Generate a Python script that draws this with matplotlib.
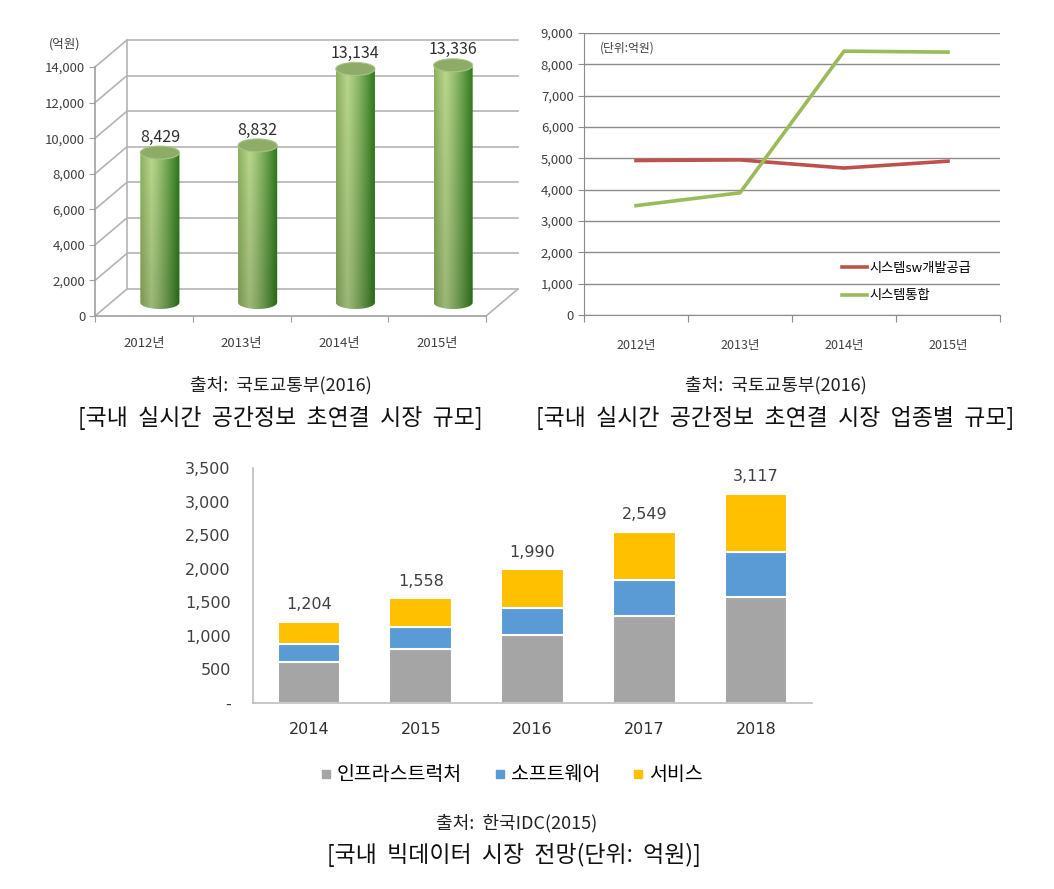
import numpy as np
import matplotlib
matplotlib.use("Agg")
import matplotlib.pyplot as plt
from matplotlib.path import Path
from matplotlib.patches import PathPatch, Ellipse
from matplotlib.lines import Line2D
from matplotlib.colors import to_rgb

plt.rcParams['font.family'] = ['Noto Sans CJK KR', 'DejaVu Sans']

# ---------------- data ----------------
years_a = ['2012년', '2013년', '2014년', '2015년']
market_total = [8429, 8832, 13134, 13336]

years_b = ['2012년', '2013년', '2014년', '2015년']
sw_supply = [4930, 4950, 4690, 4910]
sys_integration = [3490, 3900, 8420, 8390]
line_names = ['시스템sw개발공급', '시스템통합']

years_c = ['2014', '2015', '2016', '2017', '2018']
infra = [615, 800, 1010, 1300, 1585]
software = [262, 325, 410, 530, 660]
service = [327, 433, 570, 719, 872]
totals = [1204, 1558, 1990, 2549, 3117]
stack_names = ['인프라스트럭처', '소프트웨어', '서비스']

W, H = 1054, 889
fig = plt.figure(figsize=(W / 100, H / 100), dpi=100)
fig.patch.set_facecolor('white')


def box(l, t, r, b):
    return [l / W, 1 - b / H, (r - l) / W, (b - t) / H]


def fmt(v):
    return f"{v:,}"

# ---------------- chart 1: 3D cylinders ----------------
L1, T1, R1, B1 = 95, 67, 486, 316
ax1 = fig.add_axes(box(L1, T1, R1, B1))
ax1.set_xlim(-0.5, 3.5)
ax1.set_ylim(0, 14000)
px_x = (R1 - L1) / 4.0
px_y = (B1 - T1) / 14000.0
DX = 32 / px_x          # depth offset in data units
DY = 27 / px_y
gcol = '#b4b4b4'
for v in range(0, 14001, 2000):
    ax1.plot([-0.5, -0.5 + DX], [v, v + DY], color=gcol, lw=1.2, clip_on=False, zorder=1)
    ax1.plot([-0.5 + DX, 3.5 + DX], [v + DY, v + DY], color=gcol, lw=1.2, clip_on=False, zorder=1)
ax1.plot([-0.5 + DX, -0.5 + DX], [DY, 14000 + DY], color=gcol, lw=1.2, clip_on=False, zorder=1)
ax1.plot([3.5, 3.5 + DX], [0, DY], color=gcol, lw=1.2, clip_on=False, zorder=1)
for s in ['top', 'right']:
    ax1.spines[s].set_visible(False)
for s in ['left', 'bottom']:
    ax1.spines[s].set_color('#a0a0a0')
    ax1.spines[s].set_linewidth(1.2)
ax1.set_yticks(range(0, 14001, 2000))
ax1.set_yticklabels([fmt(v) for v in range(0, 14001, 2000)], fontsize=9.5, color='#404040')
ax1.set_xticks([-0.5, 0.5, 1.5, 2.5, 3.5])
ax1.set_xticklabels([])
ax1.set_xticks(range(4), minor=True)
ax1.set_xticklabels(years_a, minor=True, fontsize=9.5, color='#404040')
ax1.tick_params(axis='x', which='minor', length=0, pad=15)
ax1.tick_params(axis='x', which='major', length=4, color='#a0a0a0')
ax1.tick_params(axis='y', length=4, color='#a0a0a0', pad=3)
ax1.patch.set_alpha(0)

w = 0.40
eh = 13 / px_y           # ellipse height in data units
c_left = np.array(to_rgb('#8cb05e'))
c_light = np.array(to_rgb('#b8d68c'))
c_dark = np.array(to_rgb('#2a7518'))
t = np.linspace(0, 1, 120)
cols = np.where(t[:, None] < 0.28,
                c_left + (c_light - c_left) * (t[:, None] / 0.28),
                c_light + (c_dark - c_light) * ((t[:, None] - 0.28) / 0.72) ** 1.2)
for i, v in enumerate(market_total):
    xc = i + DX / 2
    base = DY / 2
    top = v + DY / 2
    th = np.linspace(np.pi, 2 * np.pi, 40)
    bot_x = xc + (w / 2) * np.cos(th)
    bot_y = base + (eh / 2) * np.sin(th)
    verts = np.concatenate([np.c_[bot_x, bot_y],
                            [[xc + w / 2, top]], [[xc - w / 2, top]], [[xc - w / 2, base]]])
    patch = PathPatch(Path(verts), facecolor='none', edgecolor='none')
    ax1.add_patch(patch)
    patch.set_clip_on(False)
    vfade = np.linspace(0.85, 1.0, 60)[::-1]
    img = cols[None, :, :] * vfade[:, None, None]
    im = ax1.imshow(img, extent=[xc - w / 2, xc + w / 2, base - eh / 2, top],
                    aspect='auto', origin='upper', zorder=3, clip_on=True)
    im.set_clip_path(patch)
    ax1.add_patch(Ellipse((xc, top), w, eh, facecolor='#8fab68', edgecolor='#a9c486',
                          lw=0.8, zorder=4, clip_on=False))
    ax1.annotate(fmt(v), (xc, top), xytext=(0, 5), textcoords='offset points',
                 ha='center', va='bottom', fontsize=11.5, color='#303030',
                 annotation_clip=False, zorder=5)
ax1.set_xlim(-0.5, 3.5)
ax1.set_ylim(0, 14000)
fig.text(65 / W, 1 - 44 / H, '(억원)', ha='center', va='center', fontsize=9, color='#404040')

# ---------------- chart 2: lines ----------------
ax2 = fig.add_axes(box(584, 33, 1000, 315))
x2 = np.arange(len(years_b))
ax2.plot(x2, sw_supply, color='#c0504d', lw=2.6, label=line_names[0], zorder=3)
ax2.plot(x2, sys_integration, color='#9bbb59', lw=2.6, label=line_names[1], zorder=3)
ax2.set_xlim(-0.5, 3.5)
ax2.set_ylim(0, 9000)
ax2.set_yticks(range(0, 9001, 1000))
ax2.set_yticklabels([fmt(v) for v in range(0, 9001, 1000)], fontsize=9.5, color='#404040')
ax2.grid(axis='y', color='#8c8c8c', lw=1.0)
ax2.set_axisbelow(True)
for s in ['top', 'right']:
    ax2.spines[s].set_visible(False)
for s in ['left', 'bottom']:
    ax2.spines[s].set_color('#8c8c8c')
ax2.set_xticks([-0.5, 0.5, 1.5, 2.5, 3.5])
ax2.set_xticklabels([])
ax2.set_xticks(range(4), minor=True)
ax2.set_xticklabels(years_b, minor=True, fontsize=9, color='#404040')
ax2.tick_params(axis='x', which='minor', length=0, pad=17)
ax2.tick_params(axis='x', which='major', length=5, color='#8c8c8c')
ax2.tick_params(axis='y', length=4, color='#8c8c8c')
ax2.text(0.105, 0.945, '(단위:억원)', transform=ax2.transAxes, ha='center', va='center',
         fontsize=8.5, color='#404040')
ax2.legend(loc='upper left', bbox_to_anchor=(842 / W, 1 - 262 / H), bbox_transform=fig.transFigure,
           frameon=False, fontsize=9.5, handlelength=1.9, handletextpad=0.2, labelspacing=1.08,
           borderpad=0, borderaxespad=0)

# ---------------- chart 3: stacked bars ----------------
ax3 = fig.add_axes(box(253, 468, 812, 703))
x3 = np.arange(len(years_c))
bw = 0.56
ax3.bar(x3, infra, bw, color='#a5a5a5', edgecolor='white', lw=1.5, label=stack_names[0])
bottom2 = np.array(infra)
ax3.bar(x3, software, bw, bottom=bottom2, color='#5b9bd5', edgecolor='white', lw=1.5,
        label=stack_names[1])
bottom3 = bottom2 + np.array(software)
ax3.bar(x3, service, bw, bottom=bottom3, color='#ffc000', edgecolor='white', lw=1.5,
        label=stack_names[2])
for xi, tot in zip(x3, totals):
    ax3.annotate(fmt(tot), (xi, tot), xytext=(0, 7), textcoords='offset points', ha='center',
                 va='bottom', fontsize=11.5, family='DejaVu Sans', color='#404040',
                 annotation_clip=False)
ax3.set_xlim(-0.5, 4.5)
ax3.set_ylim(0, 3500)
yt = list(range(0, 3501, 500))
ax3.set_yticks(yt)
ax3.set_yticklabels(['-'] + [fmt(v) for v in yt[1:]], fontsize=11.5, family='DejaVu Sans',
                    color='#404040')
ax3.set_xticks(x3)
ax3.set_xticklabels(years_c, fontsize=11.5, family='DejaVu Sans', color='#303030')
ax3.tick_params(axis='both', length=0)
ax3.tick_params(axis='x', pad=14)
ax3.tick_params(axis='y', pad=16)
for s in ['top', 'right']:
    ax3.spines[s].set_visible(False)
for s in ['left', 'bottom']:
    ax3.spines[s].set_color('#bfbfbf')
    ax3.spines[s].set_linewidth(1.2)
handles = [Line2D([], [], marker='s', ls='none', color=c, markersize=5.5)
           for c in ['#a5a5a5', '#5b9bd5', '#ffc000']]
fig.legend(handles, stack_names, loc='center', bbox_to_anchor=(511 / W, 1 - 775 / H), ncol=3,
           frameon=False, fontsize=14, handlelength=0.7, handletextpad=0.2, columnspacing=1.6,
           borderpad=0)

# ---------------- captions ----------------
fig.text(281 / W, 1 - 385 / H, '출처:  국토교통부(2016)', ha='center', va='center', fontsize=13, color='#222222')
fig.text(280 / W, 1 - 418 / H, '[국내  실시간  공간정보  초연결  시장  규모]', ha='center', va='center',
         fontsize=16.5, color='#111111')
fig.text(776 / W, 1 - 385 / H, '출처:  국토교통부(2016)', ha='center', va='center', fontsize=13, color='#222222')
fig.text(775 / W, 1 - 418 / H, '[국내  실시간  공간정보  초연결  시장  업종별  규모]', ha='center', va='center',
         fontsize=16.5, color='#111111')
fig.text(517 / W, 1 - 823 / H, '출처:  한국IDC(2015)', ha='center', va='center', fontsize=13, color='#222222')
fig.text(514 / W, 1 - 855 / H, '[국내  빅데이터  시장  전망(단위:  억원)]', ha='center', va='center',
         fontsize=16.5, color='#111111')

fig.savefig('out.png', dpi=100, facecolor='white')
